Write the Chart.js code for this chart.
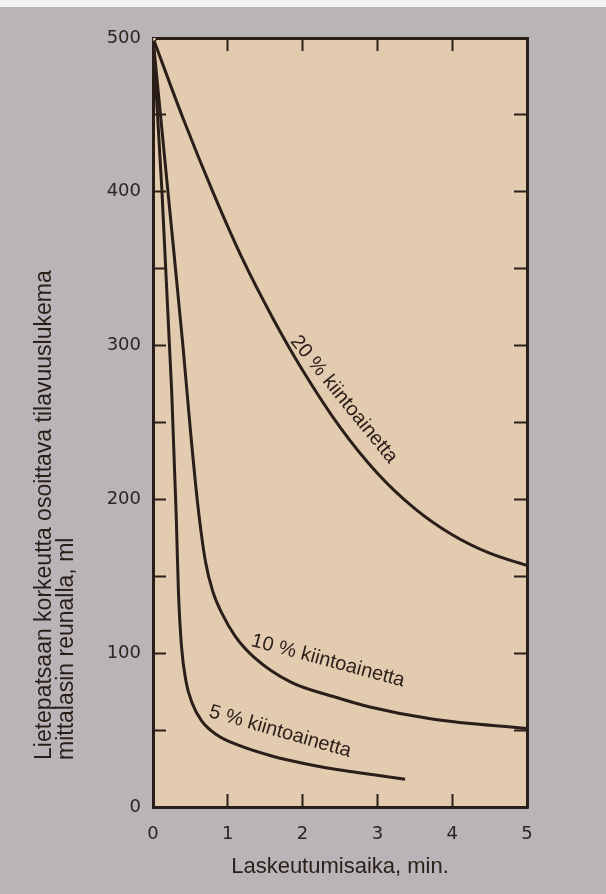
<!DOCTYPE html>
<html>
<head>
<meta charset="utf-8">
<script src="https://cdn.jsdelivr.net/npm/chart.js@4.4.1/dist/chart.umd.min.js"></script>
<style>
  html, body { margin: 0; padding: 0; }
  body { width: 606px; height: 894px; background: linear-gradient(#f2f2f2 0, #f2f2f2 7px, #b8b4b7 7px); }
</style>
</head>
<body>
<canvas id="myChart" width="606" height="894"></canvas>
<script>
// settling time (min) and slurry column reading (ml)
const time5 = [0, 0.12, 0.25, 0.31, 0.34, 0.38, 0.44, 0.52, 0.65, 0.85, 1.15, 1.6, 2.05, 2.5, 2.95, 3.37];
const vol5 = [500, 400, 270, 190, 140, 105, 82, 68, 56, 47, 40, 33, 28, 24, 21, 18];

const time10 = [0, 0.2, 0.4, 0.5, 0.6, 0.7, 0.8, 0.92, 1.1, 1.36, 1.85, 2.4, 2.9, 3.75, 5.0];
const vol10 = [500, 400, 300, 245, 196, 160, 140, 126, 111, 97, 81, 72, 65, 57, 51];

const time20 = [0, 0.4, 0.8, 1.2, 1.6, 2.0, 2.5, 3.0, 3.5, 4.0, 4.5, 5.0];
const vol20 = [500, 448, 400, 356, 318, 284, 247, 217, 194, 177, 165, 157];

const curveNames = ['20 % kiintoainetta', '10 % kiintoainetta', '5 % kiintoainetta'];
const nameTime = [2.55, 2.34, 1.7];
const nameVol = [265, 95, 49];

const yTitle = ['Lietepatsaan korkeutta osoittava tilavuuslukema', 'mittalasin reunalla, ml'];
const xTitle = 'Laskeutumisaika, min.';

const ink = '#2a1e19';
const toPoints = (xs, ys) => xs.map((x, i) => ({x: x, y: ys[i]}));

// beige plot paper behind the curves
const plotBg = {
    id: 'plotBg',
    beforeDraw(chart) {
        const {ctx, chartArea: a} = chart;
        ctx.save();
        ctx.fillStyle = '#e3cbb0';
        ctx.fillRect(a.left, a.top, a.right - a.left, a.bottom - a.top);
        ctx.restore();
    }
};

// curve names along the lines + two line y title
const curveText = {
    id: 'curveText',
    afterDraw(chart) {
        const ctx = chart.ctx;
        const angles = [51, 15, 16];
        ctx.save();
        ctx.fillStyle = ink;
        ctx.font = '20px "Liberation Sans", Arial, sans-serif';
        ctx.textAlign = 'center';
        ctx.textBaseline = 'middle';
        curveNames.forEach((name, i) => {
            const px = chart.scales.x.getPixelForValue(nameTime[i]);
            const py = chart.scales.y.getPixelForValue(nameVol[i]);
            ctx.save();
            ctx.translate(px, py);
            ctx.rotate(angles[i] * Math.PI / 180);
            ctx.fillText(name, 0, 0);
            ctx.restore();
        });

        ctx.font = '23px "Liberation Sans", Arial, sans-serif';
        ctx.textAlign = 'left';
        ctx.textBaseline = 'alphabetic';
        const baseX = [51, 73];
        yTitle.forEach((line, i) => {
            ctx.save();
            ctx.translate(baseX[i], 760);
            ctx.rotate(-Math.PI / 2);
            ctx.fillText(line, 0, 0);
            ctx.restore();
        });
        ctx.restore();
    }
};

const lineStyle = {
    borderColor: ink,
    borderWidth: 3,
    fill: false,
    cubicInterpolationMode: 'monotone'
};

const tickFont = {family: '"DejaVu Sans", sans-serif', size: 18};
const frame = {display: true, color: ink, width: 3};
const inwardTicks = {drawOnChartArea: false, drawTicks: true, tickLength: -13, tickWidth: 2, tickColor: ink};

const ctx = document.getElementById('myChart').getContext('2d');
const chart = new Chart(ctx, {
    type: 'line',
    data: {
        datasets: [
            Object.assign({
                label: curveNames[0],
                data: toPoints(time20, vol20),
                pointRadius: c => c.dataIndex === 0 ? 3.5 : 0,
                pointBackgroundColor: '#e3cbb0',
                pointBorderColor: ink,
                pointBorderWidth: 1.5
            }, lineStyle),
            Object.assign({label: curveNames[1], data: toPoints(time10, vol10), pointRadius: 0}, lineStyle),
            Object.assign({label: curveNames[2], data: toPoints(time5, vol5), pointRadius: 0}, lineStyle)
        ]
    },
    options: {
        responsive: false,
        animation: false,
        layout: {padding: {top: 38, right: 79, left: 0, bottom: 0}},
        plugins: {
            legend: {display: false},
            tooltip: {enabled: false}
        },
        scales: {
            x: {
                type: 'linear',
                position: 'bottom',
                min: 0,
                max: 5,
                border: frame,
                grid: inwardTicks,
                ticks: {stepSize: 1, color: '#2e2420', font: tickFont, padding: 30, autoSkip: false},
                title: {
                    display: true,
                    text: xTitle,
                    color: ink,
                    font: {family: '"Liberation Sans", Arial, sans-serif', size: 22},
                    padding: {top: 0, bottom: 14}
                },
                afterFit: s => { s.height = 87; }
            },
            x2: {
                type: 'linear',
                position: 'top',
                min: 0,
                max: 5,
                border: frame,
                grid: inwardTicks,
                ticks: {stepSize: 1, display: false},
                afterFit: s => { s.height = 0; }
            },
            y: {
                type: 'linear',
                position: 'left',
                min: 0,
                max: 500,
                border: frame,
                grid: inwardTicks,
                ticks: {
                    stepSize: 50,
                    autoSkip: false,
                    color: '#2e2420',
                    font: tickFont,
                    padding: 25,
                    callback: v => (v % 100 === 0 ? v : '')
                },
                afterFit: s => { s.width = 153; }
            },
            y2: {
                type: 'linear',
                position: 'right',
                min: 0,
                max: 500,
                border: frame,
                grid: inwardTicks,
                ticks: {stepSize: 50, display: false},
                afterFit: s => { s.width = 0; }
            }
        }
    },
    plugins: [plotBg, curveText]
});
</script>
</body>
</html>
